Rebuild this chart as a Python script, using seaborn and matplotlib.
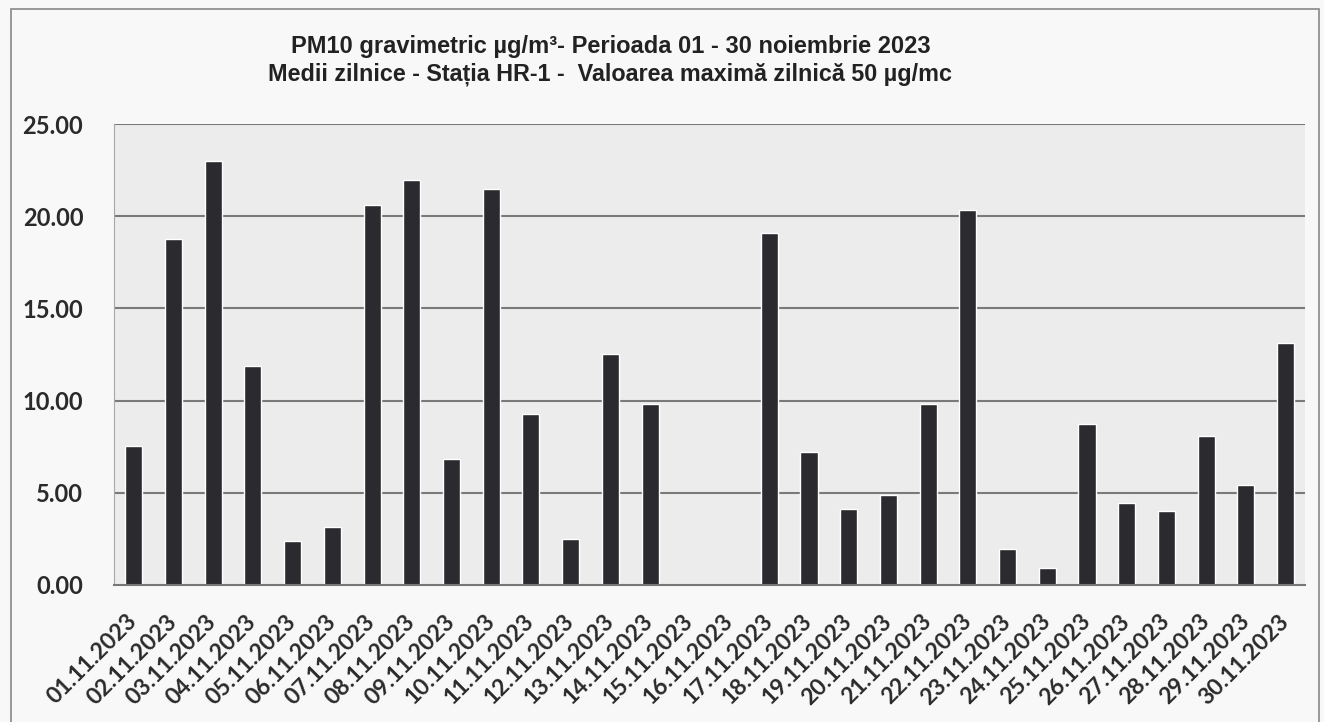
import numpy as np
import pandas as pd
import matplotlib.pyplot as plt
import seaborn as sns
from matplotlib.patches import Rectangle
from matplotlib.ticker import FixedLocator

dates = ["%02d.11.2023" % d for d in range(1, 31)]
pm10 = [7.55, 18.75, 23.0, 11.9, 2.38, 3.12, 20.6, 21.97, 6.83, 21.5,
        9.28, 2.47, 12.53, 9.8, np.nan, np.nan, 19.08, 7.19, 4.13, 4.85,
        9.84, 20.35, 1.93, 0.9, 8.74, 4.45, 4.0, 8.09, 5.44, 13.15]
yticks = [0, 5, 10, 15, 20, 25]

df = pd.DataFrame({"data": dates, "pm10": pm10})

sns.set_style("white")
plt.rcParams["font.family"] = ["Lato", "DejaVu Sans"]

fig = plt.figure(figsize=(13.24, 7.22), dpi=100)
fig.patch.set_facecolor("#f8f8f8")
ax = fig.add_axes([0.086, 0.19, 0.900, 0.638])
ax.set_facecolor("#ececec")

sns.barplot(data=df, x="data", y="pm10", order=dates, color="#2a2a2f",
            saturation=1, width=0.43, ax=ax)

ax.set_ylim(0, 25)
ax.set_xlim(-0.5, 29.5)
ax.set_yticks(yticks)
ax.set_yticklabels(["%.2f" % v for v in yticks], fontsize=17, fontweight="bold",
                   color="#2a2a2a")
for v in yticks[1:]:
    ax.axhline(v, color="#7a7a7a", lw=1.5, zorder=0)
ax.tick_params(axis="y", length=8, width=1.5, color="#7a7a7a", pad=14)

ax.set_xticks(range(30))
ax.set_xticklabels(dates, rotation=45, ha="right", va="center",
                   rotation_mode="anchor",
                   fontsize=16.5, fontweight="bold", color="#2a2a2a")
ax.tick_params(axis="x", which="major", length=0, pad=24)
ax.xaxis.set_minor_locator(FixedLocator(np.arange(-0.5, 30, 1)))
ax.tick_params(axis="x", which="minor", length=8, width=1.2, color="#777777")

for s in ["top", "right"]:
    ax.spines[s].set_visible(False)
ax.spines["left"].set_color("#a8a8a8")
ax.spines["left"].set_linewidth(0.8)
ax.spines["bottom"].set_color("#777777")
ax.spines["bottom"].set_linewidth(1.5)
ax.set_xlabel("")
ax.set_ylabel("")

title_fonts = ["Liberation Sans Narrow", "Liberation Sans", "DejaVu Sans"]
fig.text(0.461, 0.935, "PM10 gravimetric µg/m³- Perioada 01 - 30 noiembrie 2023",
         ha="center", va="center", fontsize=17, fontweight="bold",
         family=title_fonts, color="#222222")
fig.text(0.461, 0.897, "Medii zilnice - Stația HR-1 -  Valoarea maximă zilnică 50 µg/mc",
         ha="center", va="center", fontsize=16.8, fontweight="bold",
         family=title_fonts, color="#222222")

fig.patches.append(Rectangle((0.008, -0.05), 0.988, 1.038, transform=fig.transFigure,
                             fill=False, edgecolor="#888888", lw=1.2))

fig.savefig("out.png", dpi=100, facecolor=fig.get_facecolor())
